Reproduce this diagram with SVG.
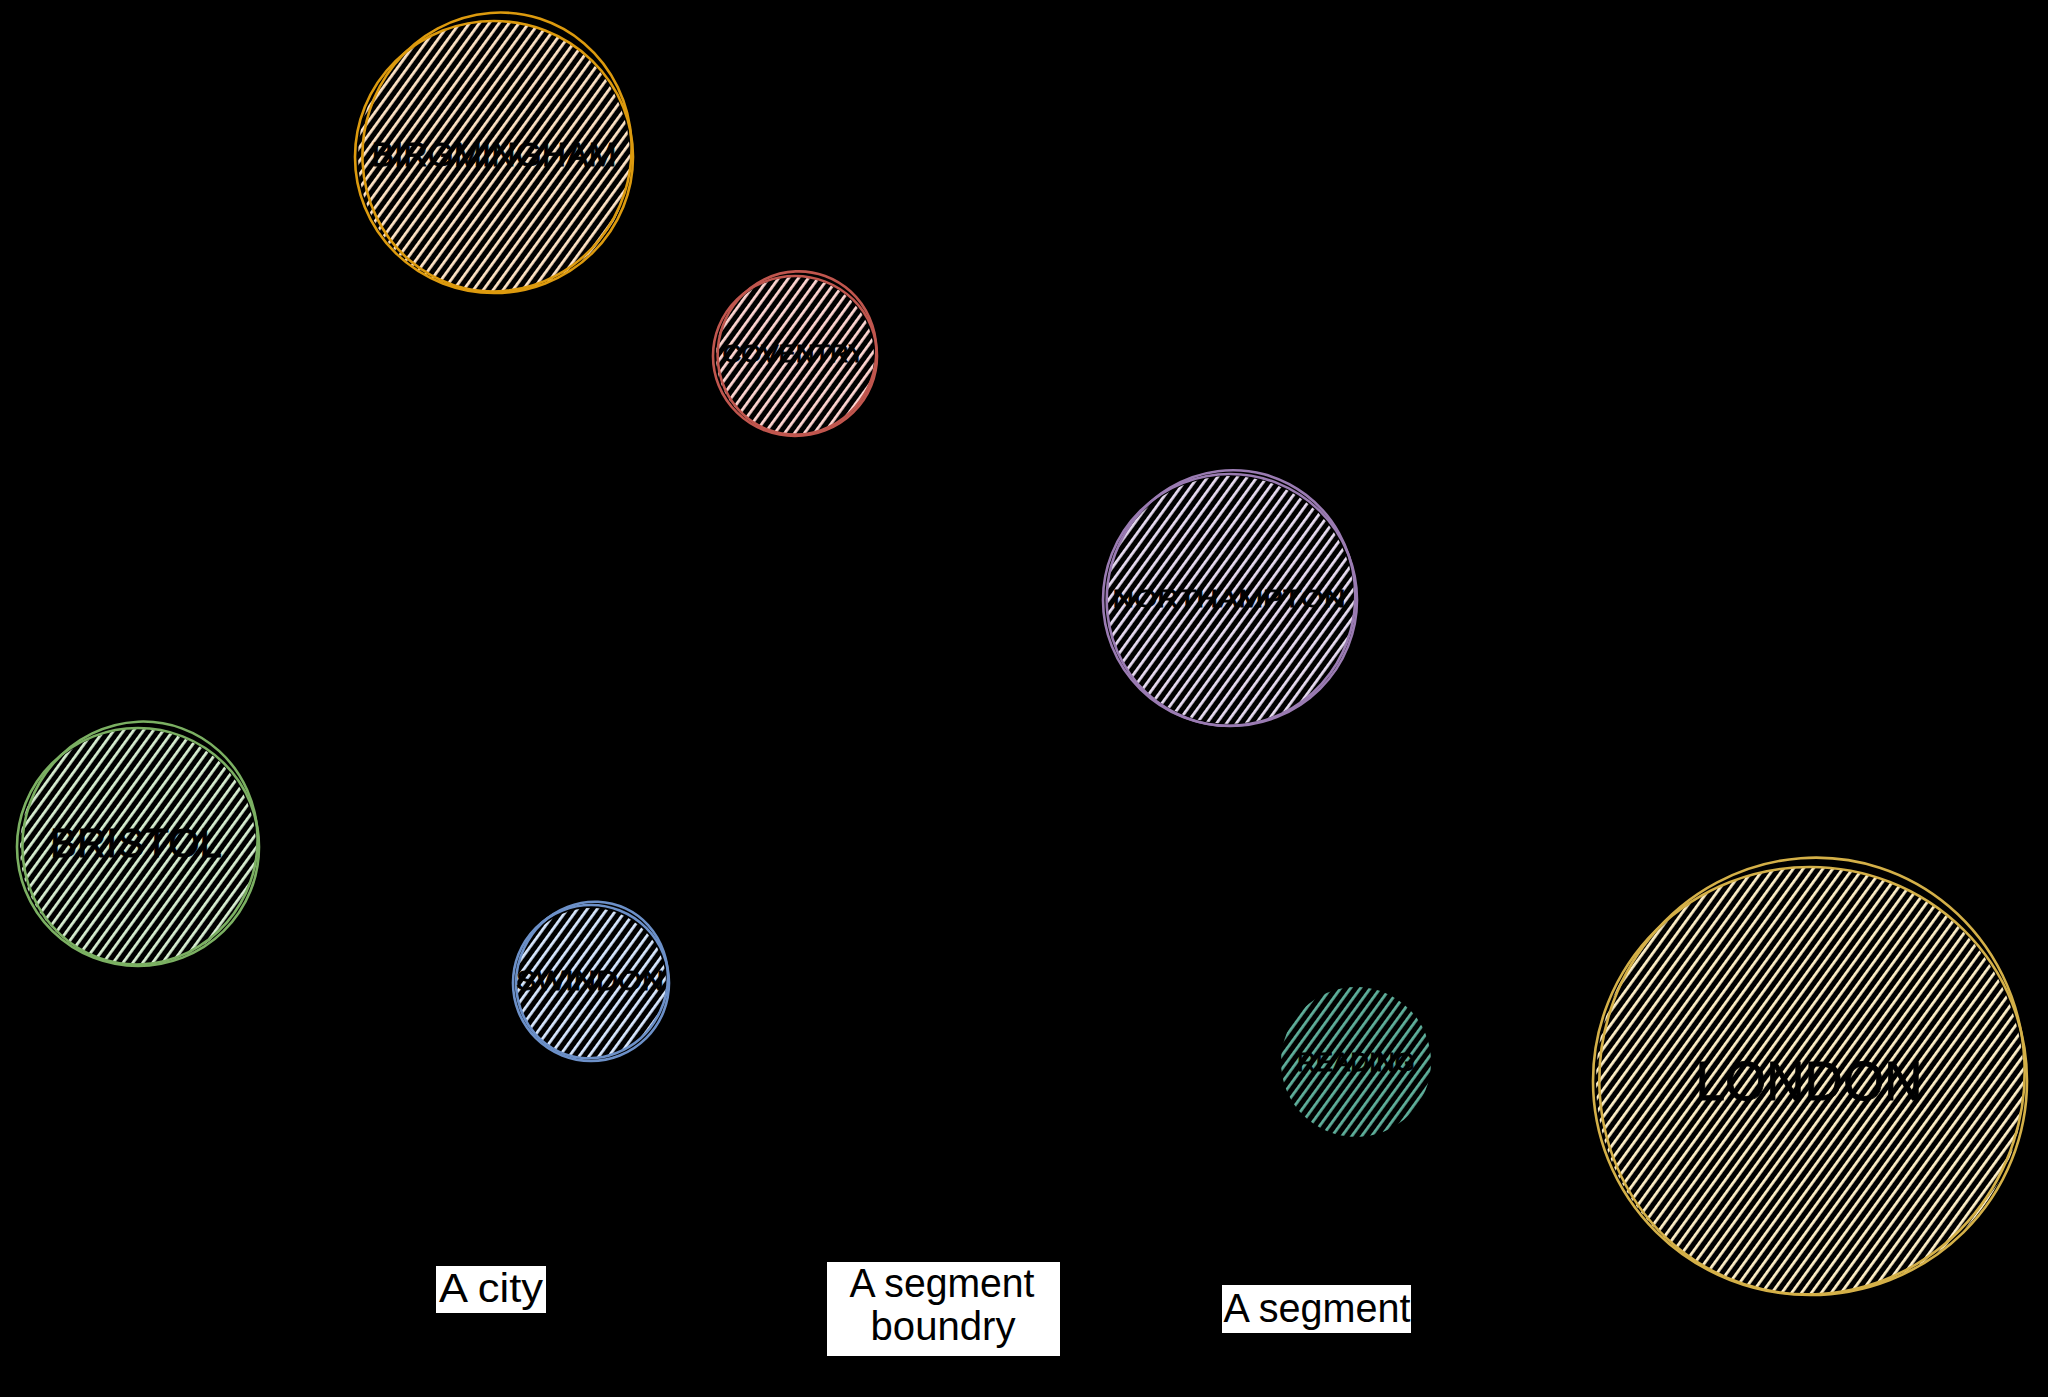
<svg xmlns="http://www.w3.org/2000/svg" width="2048" height="1397" viewBox="0 0 2048 1397">
<defs>
<pattern id="h-bir" patternUnits="userSpaceOnUse" width="8" height="8" patternTransform="rotate(-54)"><rect x="0" y="0" width="8" height="2.8" fill="#ffe4c6"/></pattern>
<pattern id="h-cov" patternUnits="userSpaceOnUse" width="8" height="8" patternTransform="rotate(-54)"><rect x="0" y="0" width="8" height="2.8" fill="#ffd6d2"/></pattern>
<pattern id="h-nor" patternUnits="userSpaceOnUse" width="8" height="8" patternTransform="rotate(-54)"><rect x="0" y="0" width="8" height="2.8" fill="#e8dcf2"/></pattern>
<pattern id="h-bri" patternUnits="userSpaceOnUse" width="8" height="8" patternTransform="rotate(-54)"><rect x="0" y="0" width="8" height="2.8" fill="#d8efd2"/></pattern>
<pattern id="h-swi" patternUnits="userSpaceOnUse" width="8" height="8" patternTransform="rotate(-54)"><rect x="0" y="0" width="8" height="2.8" fill="#d8e8ff"/></pattern>
<pattern id="h-rea" patternUnits="userSpaceOnUse" width="8" height="8" patternTransform="rotate(-54)"><rect x="0" y="0" width="8" height="2.8" fill="#5fb09c"/></pattern>
<pattern id="h-lon" patternUnits="userSpaceOnUse" width="8" height="8" patternTransform="rotate(-54)"><rect x="0" y="0" width="8" height="2.8" fill="#fff0c8"/></pattern>
</defs>
<style>
.o{fill:none;stroke-width:2.6;stroke-linecap:round}
.city{font-family:"Liberation Sans","DejaVu Sans",sans-serif;fill:#000;stroke:#000;stroke-width:0.8;text-anchor:middle}
.lbl{font-family:"Liberation Sans","DejaVu Sans",sans-serif;font-size:40px;fill:#000;text-anchor:middle}
.box{fill:#fff}
</style>
<rect x="0" y="0" width="2048" height="1397" fill="#000"/>
<g id="connectors"></g>

<g id="birmingham">
<circle cx="494" cy="157" r="136" fill="url(#h-bir)"/>
<ellipse class="o" stroke="#dc9a0e" cx="494" cy="157" rx="139" ry="136"/>
<ellipse class="o" stroke="#dc9a0e" cx="497" cy="152" rx="134" ry="140" transform="rotate(18 497 152)"/>
<text class="city" x="494" y="166" font-size="34" textLength="245" lengthAdjust="spacingAndGlyphs">BIRGMINGHAM</text>
</g>

<g id="coventry">
<circle cx="795" cy="356" r="79" fill="url(#h-cov)"/>
<ellipse class="o" stroke="#c0564e" cx="795" cy="356" rx="82" ry="80"/>
<ellipse class="o" stroke="#c0564e" cx="797" cy="353" rx="79" ry="82" transform="rotate(20 797 353)"/>
<text class="city" x="794" y="362" font-size="23" textLength="143" lengthAdjust="spacingAndGlyphs">COVENTRY</text>
</g>

<g id="northampton">
<circle cx="1230" cy="600" r="124" fill="url(#h-nor)"/>
<ellipse class="o" stroke="#9a7bb2" cx="1230" cy="600" rx="127" ry="126"/>
<ellipse class="o" stroke="#9a7bb2" cx="1231" cy="598" rx="124" ry="128" transform="rotate(15 1231 598)"/>
<text class="city" x="1229" y="607" font-size="24" textLength="233" lengthAdjust="spacingAndGlyphs">NORTHAMPTON</text>
</g>

<g id="bristol">
<circle cx="138" cy="847" r="118" fill="url(#h-bri)"/>
<ellipse class="o" stroke="#7bb062" cx="138" cy="847" rx="121" ry="119"/>
<ellipse class="o" stroke="#7bb062" cx="140" cy="843" rx="117" ry="122" transform="rotate(20 140 843)"/>
<text class="city" x="136" y="857" font-size="40" textLength="172" lengthAdjust="spacingAndGlyphs">BRISTOL</text>
</g>

<g id="swindon">
<circle cx="591" cy="983" r="75" fill="url(#h-swi)"/>
<ellipse class="o" stroke="#6c90c8" cx="591" cy="983" rx="78" ry="78"/>
<ellipse class="o" stroke="#6c90c8" cx="592" cy="980" rx="75" ry="79" transform="rotate(25 592 980)"/>
<text class="city" x="590" y="990" font-size="27" textLength="148" lengthAdjust="spacingAndGlyphs">SWINDON</text>
</g>

<g id="reading">
<circle cx="1356" cy="1062" r="75" fill="url(#h-rea)"/>
<text class="city" x="1356" y="1071" font-size="25" textLength="118" lengthAdjust="spacingAndGlyphs" stroke-width="0.3">READING</text>
</g>

<g id="london">
<circle cx="1810" cy="1081" r="214" fill="url(#h-lon)"/>
<ellipse class="o" stroke="#d4b048" cx="1810" cy="1081" rx="217" ry="214"/>
<ellipse class="o" stroke="#d4b048" cx="1812" cy="1076" rx="212" ry="219" transform="rotate(18 1812 1076)"/>
<text class="city" x="1809" y="1100" font-size="55" textLength="227" lengthAdjust="spacingAndGlyphs">LONDON</text>
</g>

<g id="legend-city">
<rect class="box" x="436" y="1266" width="110" height="47"/>
<text class="lbl" x="491" y="1302" textLength="104" lengthAdjust="spacingAndGlyphs">A city</text>
</g>

<g id="legend-boundary">
<rect class="box" x="827" y="1262" width="233" height="94"/>
<text class="lbl" x="942" y="1297" textLength="185" lengthAdjust="spacingAndGlyphs">A segment</text>
<text class="lbl" x="943" y="1340" textLength="145" lengthAdjust="spacingAndGlyphs">boundry</text>
</g>

<g id="legend-segment">
<rect class="box" x="1222" y="1285" width="189" height="48"/>
<text class="lbl" x="1317" y="1322" textLength="187" lengthAdjust="spacingAndGlyphs">A segment</text>
</g>
</svg>
